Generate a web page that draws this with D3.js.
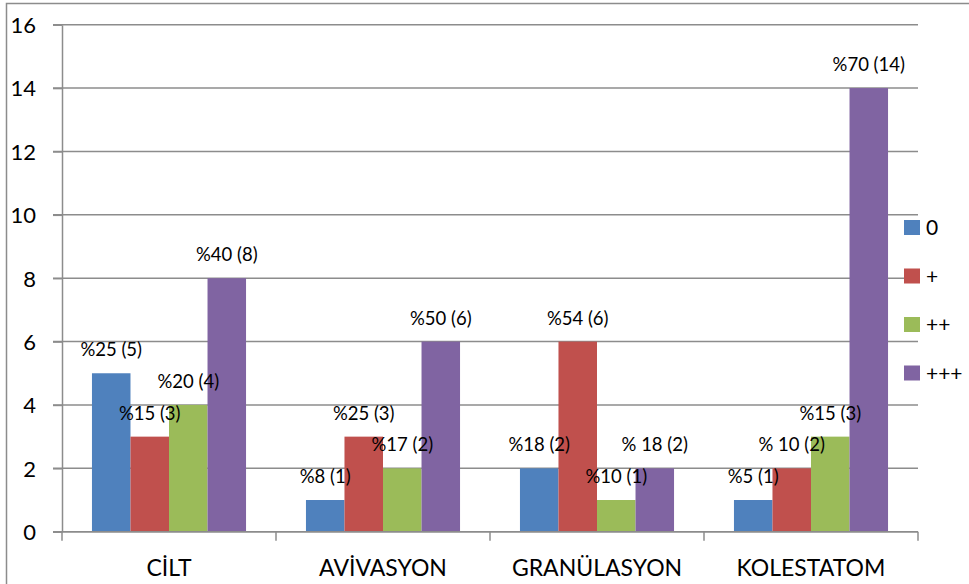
<!DOCTYPE html>
<html>
<head>
<meta charset="utf-8">
<script src="https://cdn.jsdelivr.net/npm/d3@7"></script>
<style>
  html, body { margin: 0; padding: 0; background: #fff; }
  svg { display: block; }
  text { font-family: Lato, "Open Sans", sans-serif; fill: #000; }
</style>
</head>
<body>
<svg id="chart" width="969" height="584"></svg>
<script>
// Categories and series
const categories = ["CİLT", "AVİVASYON", "GRANÜLASYON", "KOLESTATOM"];
const seriesNames = ["0", "+", "++", "+++"];
const seriesColors = ["#4F81BD", "#C0504D", "#9BBB59", "#8064A2"];

// Counts per category, one array per series
const values0 = [5, 1, 2, 1];
const valuesPlus = [3, 3, 6, 2];
const valuesPlus2 = [4, 2, 1, 3];
const valuesPlus3 = [8, 6, 2, 14];

// Data label texts per series
const labels0 = ["%25 (5)", "%8 (1)", "%18 (2)", "%5 (1)"];
const labelsPlus = ["%15 (3)", "%25 (3)", "%54 (6)", "% 10 (2)"];
const labelsPlus2 = ["%20 (4)", "%17 (2)", "%10 (1)", "%15 (3)"];
const labelsPlus3 = ["%40 (8)", "%50 (6)", "% 18 (2)", "%70 (14)"];

const yTicks = [0, 2, 4, 6, 8, 10, 12, 14, 16];

const seriesValues = [values0, valuesPlus, valuesPlus2, valuesPlus3];
const seriesLabels = [labels0, labelsPlus, labelsPlus2, labelsPlus3];

const svg = d3.select("#chart");

// outer frame
svg.append("rect")
  .attr("x", 6.5).attr("y", 3.5)
  .attr("width", 1000).attr("height", 1000)
  .attr("fill", "none").attr("stroke", "#8c8c8c").attr("stroke-width", 1.5);

const plot = { left: 62, right: 918, top: 24.7, bottom: 531.7 };

const y = d3.scaleLinear().domain([0, 16]).range([plot.bottom, plot.top]);
const x0 = d3.scaleBand().domain(categories).range([plot.left, plot.right]);
const gap = x0.bandwidth() * 0.28 / 2;
const x1 = d3.scaleBand().domain(seriesNames).range([gap, x0.bandwidth() - gap]);

// gridlines
svg.append("g").selectAll("line")
  .data(yTicks)
  .join("line")
  .attr("x1", plot.left - 9).attr("x2", plot.right)
  .attr("y1", d => y(d)).attr("y2", d => y(d))
  .attr("stroke", "#8c8c8c").attr("stroke-width", 1.5);

// y axis
const yAxis = svg.append("g")
  .attr("transform", `translate(${plot.left},0)`)
  .call(d3.axisLeft(y).tickValues(yTicks).tickSize(9).tickSizeOuter(0));
yAxis.select(".domain").attr("stroke", "#8c8c8c").attr("stroke-width", 1.5);
yAxis.selectAll(".tick line").attr("stroke", "#8c8c8c").attr("stroke-width", 1.5);
yAxis.selectAll(".tick text")
  .attr("x", -26)
  .attr("dy", "0.36em")
  .style("font-size", "22px")
  .style("font-family", "Lato, sans-serif")
  .attr("fill", "#000");

// bars
const groups = svg.append("g").selectAll("g")
  .data(categories)
  .join("g")
  .attr("transform", d => `translate(${x0(d)},0)`);

groups.selectAll("rect")
  .data((c, ci) => seriesNames.map((s, si) => ({ s, si, v: seriesValues[si][ci] })))
  .join("rect")
  .attr("x", d => x1(d.s))
  .attr("width", x1.bandwidth())
  .attr("y", d => y(d.v))
  .attr("height", d => y(0) - y(d.v))
  .attr("fill", d => seriesColors[d.si]);

// data labels
groups.selectAll("text.lbl")
  .data((c, ci) => seriesNames.map((s, si) => ({ s, si, v: seriesValues[si][ci], t: seriesLabels[si][ci] })))
  .join("text")
  .attr("class", "lbl")
  .attr("x", d => x1(d.s) + x1.bandwidth() / 2)
  .attr("y", d => y(d.v) - 17)
  .attr("text-anchor", "middle")
  .style("font-size", "18.5px")
  .text(d => d.t);

// x axis
const xAxis = svg.append("g")
  .attr("transform", `translate(0,${plot.bottom})`);
xAxis.append("line")
  .attr("x1", plot.left).attr("x2", plot.right)
  .attr("stroke", "#8c8c8c").attr("stroke-width", 1.5);
xAxis.selectAll("line.tk")
  .data(d3.range(categories.length + 1))
  .join("line")
  .attr("class", "tk")
  .attr("x1", i => plot.left + i * x0.step())
  .attr("x2", i => plot.left + i * x0.step())
  .attr("y1", 0).attr("y2", 9)
  .attr("stroke", "#8c8c8c").attr("stroke-width", 1.5);
xAxis.selectAll("text")
  .data(categories)
  .join("text")
  .attr("x", d => x0(d) + x0.bandwidth() / 2)
  .attr("y", 44)
  .attr("text-anchor", "middle")
  .style("font-size", "23px")
  .text(d => d);

// legend
const legend = svg.append("g").selectAll("g")
  .data(seriesNames)
  .join("g")
  .attr("transform", (d, i) => `translate(904,${227.5 + i * 48.5})`);
legend.append("rect")
  .attr("x", 0).attr("y", -7.5)
  .attr("width", 16).attr("height", 15)
  .attr("fill", (d, i) => seriesColors[i]);
legend.append("text")
  .attr("x", 22).attr("y", 0)
  .attr("dy", "0.36em")
  .style("font-size", "21px")
  .text(d => d);
</script>
</body>
</html>
